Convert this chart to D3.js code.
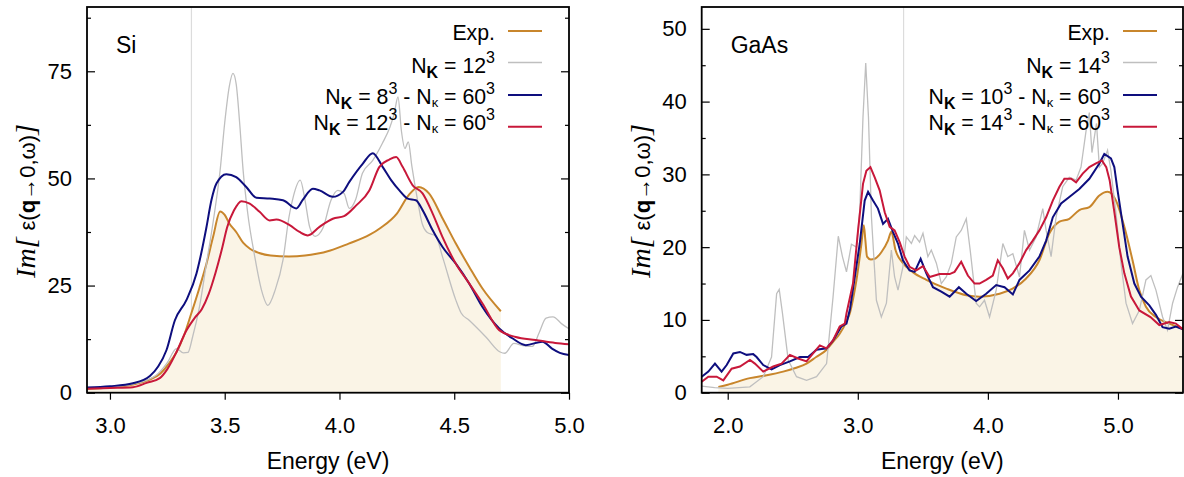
<!DOCTYPE html>
<html><head><meta charset="utf-8">
<script src="https://cdn.jsdelivr.net/npm/d3@7"></script>
<style>
body{margin:0;background:#fff;}
svg{display:block;}
text{font-family:"Liberation Sans",Arial,sans-serif;fill:#000;}
</style>
</head><body>
<svg id="chart" width="1184" height="477"></svg>
<script>
// ---------------- Si panel data (Energy eV, Im eps) ----------------
const siExp = [[2.90,0.9],[3.00,1.2],[3.10,1.9],[3.17,3.0],[3.22,4.5],[3.26,7.0],[3.29,9.5],[3.32,13.0],[3.355,18.6],[3.39,24.5],[3.42,30.0],[3.45,36.5],[3.48,42.3],[3.50,41.5],[3.52,39.5],[3.55,37.5],[3.58,35.0],[3.61,33.6],[3.65,32.6],[3.70,32.0],[3.78,31.8],[3.85,32.0],[3.90,32.4],[3.96,33.2],[4.04,34.8],[4.13,36.8],[4.18,38.5],[4.25,41.8],[4.30,46.0],[4.345,48.0],[4.39,46.5],[4.45,40.6],[4.507,34.8],[4.565,29.4],[4.623,24.3],[4.703,19.0]];
const siGray = [[2.90,1.0],[3.00,1.3],[3.10,2.0],[3.20,4.0],[3.25,7.0],[3.29,10.3],[3.32,9.3],[3.34,9.4],[3.36,13.0],[3.39,20.0],[3.42,30.0],[3.45,40.0],[3.48,51.9],[3.50,63.0],[3.52,71.5],[3.536,74.5],[3.55,72.0],[3.565,63.0],[3.58,52.0],[3.60,42.0],[3.63,32.0],[3.66,24.0],[3.688,20.4],[3.72,24.0],[3.754,31.0],[3.78,41.0],[3.80,46.0],[3.829,49.6],[3.85,44.9],[3.87,38.7],[3.894,36.5],[3.927,38.3],[3.963,44.9],[3.993,47.2],[4.02,46.5],[4.043,43.0],[4.07,45.0],[4.10,51.2],[4.145,54.2],[4.187,58.2],[4.22,62.0],[4.238,65.0],[4.255,69.0],[4.27,61.0],[4.285,57.0],[4.30,58.5],[4.315,53.0],[4.34,45.0],[4.36,39.5],[4.38,37.5],[4.42,36.5],[4.449,31.7],[4.507,21.6],[4.53,18.6],[4.565,16.9],[4.638,13.0],[4.70,9.5],[4.72,9.2],[4.76,11.5],[4.80,11.0],[4.84,10.8],[4.87,14.0],[4.90,17.4],[4.93,17.7],[4.97,16.0],[5.00,14.9]];
const siBlue = [[2.90,1.2],[3.00,1.5],[3.10,2.2],[3.174,3.9],[3.21,6.1],[3.246,9.9],[3.283,16.9],[3.333,21.6],[3.377,27.8],[3.391,30.9],[3.42,38.5],[3.442,44.9],[3.464,48.8],[3.507,51.0],[3.55,50.3],[3.594,48.0],[3.638,45.5],[3.696,45.3],[3.754,44.9],[3.812,43.0],[3.84,45.0],[3.884,47.6],[3.913,47.2],[3.971,45.7],[4.014,46.8],[4.043,49.2],[4.101,53.4],[4.145,55.9],[4.188,52.7],[4.225,49.6],[4.261,47.2],[4.297,45.3],[4.333,44.9],[4.362,42.6],[4.406,37.9],[4.449,34.0],[4.507,30.1],[4.565,25.5],[4.623,20.0],[4.696,15.0],[4.753,12.7],[4.812,11.1],[4.884,11.9],[4.926,10.3],[4.96,9.3],[5.00,8.8]];
const siRed = [[2.90,0.9],[3.00,1.1],[3.10,1.3],[3.16,2.3],[3.217,3.4],[3.25,5.5],[3.29,9.5],[3.333,14.5],[3.37,17.5],[3.40,19.5],[3.43,23.0],[3.46,28.0],[3.49,34.0],[3.51,38.5],[3.54,42.5],[3.573,44.7],[3.609,44.1],[3.652,42.2],[3.696,40.2],[3.725,40.4],[3.783,39.1],[3.826,37.5],[3.862,36.7],[3.913,38.7],[3.971,40.6],[4.02,41.2],[4.073,43.7],[4.13,47.2],[4.174,52.7],[4.217,54.4],[4.247,55.0],[4.275,52.7],[4.319,48.4],[4.362,46.5],[4.406,41.8],[4.449,36.3],[4.507,30.1],[4.565,25.5],[4.623,20.8],[4.696,14.6],[4.768,13.0],[4.855,12.3],[4.94,11.6],[5.00,11.3]];
const siMarker = 3.355;
const siXTicks = [3.0,3.5,4.0,4.5,5.0];
const siYTicks = [0,25,50,75];
const siYMinor = [12.5,37.5,62.5,87.5];

// ---------------- GaAs panel data ----------------
const gaExp = [[1.928,0.8],[2.00,1.1],[2.17,2.0],[2.30,2.4],[2.426,2.9],[2.52,3.4],[2.606,4.0],[2.68,4.9],[2.76,5.9],[2.81,7.0],[2.861,8.1],[2.913,9.8],[2.94,11.0],[2.965,13.0],[2.99,15.5],[3.01,18.0],[3.028,20.5],[3.046,23.0],[3.058,21.0],[3.071,18.7],[3.10,18.3],[3.13,18.4],[3.181,19.3],[3.232,20.9],[3.258,22.1],[3.29,19.6],[3.347,17.8],[3.42,16.6],[3.527,15.5],[3.68,14.3],[3.834,13.4],[3.936,13.2],[4.09,13.6],[4.19,14.3],[4.294,15.7],[4.396,18.2],[4.473,21.9],[4.55,23.5],[4.626,23.9],[4.703,25.1],[4.78,25.5],[4.857,27.1],[4.92,27.6],[4.985,26.4],[5.049,22.8],[5.112,18.2],[5.164,14.1],[5.215,11.8],[5.292,10.4],[5.394,9.5],[5.50,8.8]];
const gaGray = [[1.80,0.9],[1.90,0.7],[2.00,0.6],[2.17,0.8],[2.273,2.2],[2.337,4.9],[2.376,13.6],[2.396,14.2],[2.421,10.9],[2.465,4.5],[2.529,2.2],[2.606,1.7],[2.683,2.2],[2.76,4.0],[2.81,13.2],[2.85,21.5],[2.882,18.7],[2.913,16.6],[2.951,20.4],[2.99,20.0],[3.015,25.0],[3.04,37.9],[3.061,45.3],[3.082,37.9],[3.105,24.1],[3.143,12.7],[3.181,10.4],[3.22,12.3],[3.258,19.6],[3.283,15.9],[3.309,14.1],[3.347,17.3],[3.373,21.4],[3.412,20.5],[3.437,21.6],[3.475,20.7],[3.501,21.9],[3.539,18.7],[3.565,19.6],[3.604,17.8],[3.642,15.0],[3.68,15.9],[3.719,17.8],[3.757,21.4],[3.795,22.3],[3.834,23.9],[3.864,19.6],[3.91,12.3],[3.936,11.8],[3.974,12.7],[4.013,10.4],[4.064,14.1],[4.115,20.5],[4.153,18.7],[4.192,19.1],[4.243,15.9],[4.281,22.3],[4.32,19.6],[4.371,21.4],[4.422,25.3],[4.448,22.3],[4.486,18.7],[4.524,24.1],[4.575,28.3],[4.626,29.6],[4.678,29.2],[4.716,31.0],[4.755,36.0],[4.78,38.5],[4.80,33.0],[4.835,37.0],[4.857,31.0],[4.882,31.5],[4.92,33.3],[4.946,30.5],[4.985,24.6],[5.023,17.8],[5.062,12.3],[5.112,9.5],[5.164,11.3],[5.215,15.5],[5.253,16.1],[5.292,14.1],[5.343,10.4],[5.381,8.6],[5.42,12.3],[5.458,14.5],[5.50,16.4]];
const gaBlue = [[1.80,2.2],[1.851,2.9],[1.902,4.0],[1.953,2.9],[1.992,3.8],[2.043,5.4],[2.094,5.6],[2.145,5.2],[2.196,5.3],[2.222,4.9],[2.273,3.8],[2.337,3.2],[2.401,3.8],[2.478,4.3],[2.555,4.9],[2.618,4.9],[2.683,5.9],[2.76,6.1],[2.81,7.2],[2.874,9.1],[2.913,9.5],[2.94,11.5],[2.977,15.9],[3.015,20.5],[3.053,26.4],[3.079,27.6],[3.117,26.4],[3.155,25.3],[3.194,23.2],[3.232,23.9],[3.27,22.1],[3.309,20.5],[3.347,18.2],[3.398,16.8],[3.437,16.6],[3.483,18.4],[3.527,16.4],[3.578,14.5],[3.642,13.9],[3.706,13.2],[3.777,14.5],[3.834,13.6],[3.91,12.6],[3.987,13.6],[4.064,14.8],[4.128,14.5],[4.192,13.5],[4.243,15.5],[4.32,16.8],[4.396,18.7],[4.448,20.9],[4.499,24.1],[4.563,26.0],[4.626,26.9],[4.703,28.0],[4.78,29.4],[4.857,31.5],[4.895,32.8],[4.946,32.2],[4.972,31.0],[4.997,27.8],[5.036,23.2],[5.074,18.7],[5.126,15.0],[5.177,13.2],[5.241,12.0],[5.292,10.7],[5.343,9.0],[5.394,8.8],[5.445,9.1],[5.50,8.7]];
const gaRed = [[1.80,1.5],[1.851,2.2],[1.915,2.2],[1.966,1.7],[2.03,3.3],[2.094,3.6],[2.171,4.5],[2.209,4.0],[2.273,2.9],[2.35,3.6],[2.414,4.0],[2.478,5.2],[2.541,4.7],[2.606,4.3],[2.656,5.4],[2.708,6.5],[2.76,6.1],[2.81,7.2],[2.861,9.1],[2.90,9.5],[2.913,10.9],[2.963,15.0],[3.002,22.3],[3.04,28.7],[3.066,30.5],[3.097,31.0],[3.13,29.6],[3.168,27.8],[3.207,24.8],[3.245,22.8],[3.283,22.3],[3.322,20.7],[3.36,18.7],[3.398,17.3],[3.45,16.8],[3.501,17.4],[3.552,15.9],[3.629,16.3],[3.706,16.3],[3.744,16.6],[3.795,18.0],[3.846,16.1],[3.898,15.0],[3.936,15.0],[3.987,15.5],[4.038,16.1],[4.076,18.2],[4.115,17.1],[4.153,15.7],[4.192,16.4],[4.243,17.8],[4.294,19.6],[4.345,20.9],[4.396,22.3],[4.448,24.1],[4.499,26.4],[4.55,28.3],[4.588,29.4],[4.64,29.4],[4.678,28.9],[4.729,30.1],[4.78,31.0],[4.831,31.5],[4.877,31.9],[4.91,31.0],[4.936,29.2],[4.974,24.6],[5.01,20.0],[5.049,16.4],[5.10,13.2],[5.164,11.3],[5.25,10.4],[5.318,9.3],[5.394,9.7],[5.445,9.5],[5.50,8.7]];
const gaMarker = 3.352;
const gaXTicks = [2.0,3.0,4.0,5.0];
const gaYTicks = [0,10,20,30,40,50];
const gaYMinor = [5,15,25,35,45];

// legend labels: segments [text, kind]  kind: n normal, K bold subscript, k small subscript, s superscript
const siLegend = [
  [["Exp.","n"]],
  [["N","n"],["K","K"],[" = 12","n"],["3","s"]],
  [["N","n"],["K","K"],[" = 8","n"],["3","s"],[" - N","n"],["\u03BA","k"],[" = 60","n"],["3","s"]],
  [["N","n"],["K","K"],[" = 12","n"],["3","s"],[" - N","n"],["\u03BA","k"],[" = 60","n"],["3","s"]]
];
const gaLegend = [
  [["Exp.","n"]],
  [["N","n"],["K","K"],[" = 14","n"],["3","s"]],
  [["N","n"],["K","K"],[" = 10","n"],["3","s"],[" - N","n"],["\u03BA","k"],[" = 60","n"],["3","s"]],
  [["N","n"],["K","K"],[" = 14","n"],["3","s"],[" - N","n"],["\u03BA","k"],[" = 60","n"],["3","s"]]
];
const seriesColors = {exp:"#C8862C", gray:"#BFBFBF", blue:"#0E0E7E", red:"#C8183A"};
const fillColor = "#FAF4E6";

const panels = [
  {name:"Si", left:87, right:569, xDomain:[2.9,5.0], yDomain:[0,90], xTicks:siXTicks, yTicks:siYTicks, yMinor:siYMinor,
   exp:siExp, gray:siGray, blue:siBlue, red:siRed, marker:siMarker, legend:siLegend, textRight:495},
  {name:"GaAs", left:701.7, right:1183, xDomain:[1.8,5.5], yDomain:[0,53], xTicks:gaXTicks, yTicks:gaYTicks, yMinor:gaYMinor,
   exp:gaExp, gray:gaGray, blue:gaBlue, red:gaRed, marker:gaMarker, legend:gaLegend, textRight:1110}
];

const svg = d3.select("#chart");
const plotTop = 7, plotBottom = 392.7;

function richText(g, segs, x, y, size, anchor) {
  const t = g.append("text").attr("x", x).attr("y", y).attr("text-anchor", anchor).style("font-size", size + "px");
  let shift = 0;
  segs.forEach(([txt, kind]) => {
    let target = 0, fs = size, fw = null;
    if (kind === "K") { target = 5; fs = 16; fw = "bold"; }
    else if (kind === "k") { target = 3; fs = 13; }
    else if (kind === "s") { target = -10; fs = 16; }
    const sp = t.append("tspan").attr("dy", target - shift).style("font-size", fs + "px").text(txt);
    if (fw) sp.style("font-weight", fw);
    shift = target;
  });
  return t;
}

panels.forEach((p, pi) => {
  const x = d3.scaleLinear().domain(p.xDomain).range([p.left, p.right]);
  const y = d3.scaleLinear().domain(p.yDomain).range([plotBottom, plotTop]);
  const g = svg.append("g");
  const clipId = "clip" + pi;
  g.append("clipPath").attr("id", clipId).append("rect")
    .attr("x", p.left).attr("y", plotTop).attr("width", p.right - p.left).attr("height", plotBottom - plotTop);
  const plot = g.append("g").attr("clip-path", `url(#${clipId})`);

  plot.append("line").attr("x1", x(p.marker)).attr("x2", x(p.marker)).attr("y1", plotTop).attr("y2", plotBottom)
    .attr("stroke", "#DCDCDC").attr("stroke-width", 1.2);

  const area = d3.area().x(d => x(d[0])).y0(y(0)).y1(d => y(d[1])).curve(d3.curveMonotoneX);
  plot.append("path").datum(p.exp).attr("d", area).attr("fill", fillColor);

  const smooth = pi === 0 ? d3.curveMonotoneX : d3.curveLinear;
  const lineS = d3.line().x(d => x(d[0])).y(d => y(d[1])).curve(smooth);
  const lineExp = d3.line().x(d => x(d[0])).y(d => y(d[1])).curve(d3.curveMonotoneX);
  plot.append("path").datum(p.exp).attr("d", lineExp).attr("fill", "none").attr("stroke", seriesColors.exp).attr("stroke-width", 2);
  plot.append("path").datum(p.gray).attr("d", lineS).attr("fill", "none").attr("stroke", seriesColors.gray).attr("stroke-width", 1.3);
  plot.append("path").datum(p.blue).attr("d", lineS).attr("fill", "none").attr("stroke", seriesColors.blue).attr("stroke-width", 2);
  plot.append("path").datum(p.red).attr("d", lineS).attr("fill", "none").attr("stroke", seriesColors.red).attr("stroke-width", 2);

  const fmtX = d3.format(".1f"), fmtY = d3.format("d");
  const ax = g.append("g").attr("transform", `translate(0,${plotBottom})`)
    .call(d3.axisBottom(x).tickValues(p.xTicks).tickFormat(fmtX).tickSizeInner(7).tickSizeOuter(0).tickPadding(18));
  const ayL = g.append("g").attr("transform", `translate(${p.left},0)`)
    .call(d3.axisLeft(y).tickValues(p.yTicks).tickFormat(fmtY).tickSizeInner(-8).tickSizeOuter(0).tickPadding(15));
  const ayLm = g.append("g").attr("transform", `translate(${p.left},0)`)
    .call(d3.axisLeft(y).tickValues(p.yMinor).tickFormat("").tickSizeInner(-4).tickSizeOuter(0));
  const ayR = g.append("g").attr("transform", `translate(${p.right},0)`)
    .call(d3.axisRight(y).tickValues(p.yTicks).tickFormat("").tickSizeInner(-8).tickSizeOuter(0));
  const ayRm = g.append("g").attr("transform", `translate(${p.right},0)`)
    .call(d3.axisRight(y).tickValues(p.yMinor).tickFormat("").tickSizeInner(-4).tickSizeOuter(0));
  [ax, ayL, ayLm, ayR, ayRm].forEach(a => {
    a.select(".domain").remove();
    a.selectAll("line").attr("stroke", "#000").attr("stroke-width", 1.2);
    a.attr("font-family", null).attr("font-size", null);
    a.selectAll("text").style("font-size", "22px").style("font-family", '"Liberation Sans",Arial,sans-serif').attr("fill", "#000");
  });

  g.append("rect").attr("x", p.left).attr("y", plotTop).attr("width", p.right - p.left).attr("height", plotBottom - plotTop)
    .attr("fill", "none").attr("stroke", "#000").attr("stroke-width", 1.8);

  g.append("text").attr("x", p.left + 29).attr("y", 53).style("font-size", "23px").text(p.name);

  const colorKeys = ["exp", "gray", "blue", "red"];
  const lineYs = [31, 62.5, 95, 126.7];
  const baseYs = [40, 73, 103.5, 130];
  p.legend.forEach((segs, i) => {
    richText(g, segs, p.textRight, baseYs[i], 21.3, "end");
    g.append("line").attr("x1", p.textRight + 13).attr("x2", p.textRight + 47)
      .attr("y1", lineYs[i]).attr("y2", lineYs[i])
      .attr("stroke", seriesColors[colorKeys[i]]).attr("stroke-width", i === 1 ? 1.3 : 2);
  });

  g.append("text").attr("x", (p.left + p.right) / 2).attr("y", 469).attr("text-anchor", "middle")
    .style("font-size", "23px").text("Energy (eV)");

  const yl = g.append("text").attr("transform", `translate(${p.left - 52},201) rotate(-90)`).attr("text-anchor", "middle");
  yl.append("tspan").style("font-family", '"Liberation Serif","Times New Roman",serif').style("font-style", "italic").style("font-size", "28px").text("Im[ ");
  yl.append("tspan").style("font-size", "22px").text("\u03B5(");
  yl.append("tspan").style("font-size", "22px").style("font-weight", "bold").text("q");
  yl.append("tspan").style("font-size", "22px").text("\u21920,\u03C9)");
  yl.append("tspan").style("font-family", '"Liberation Serif","Times New Roman",serif').style("font-style", "italic").style("font-size", "28px").text("]");
});
</script>
</body></html>
